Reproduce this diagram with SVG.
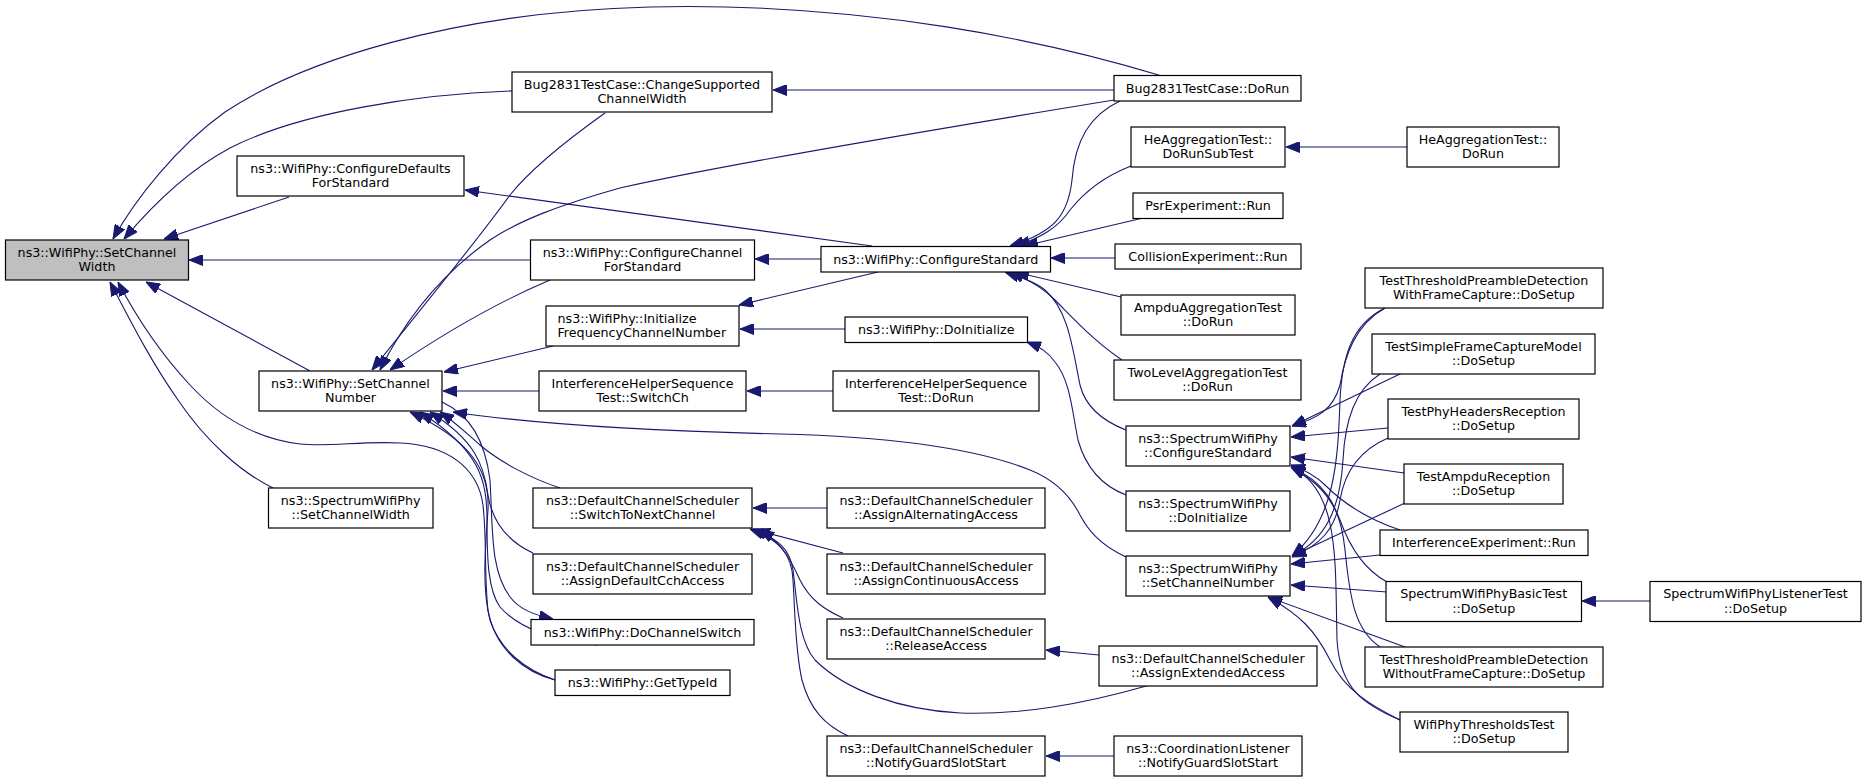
<svg xmlns="http://www.w3.org/2000/svg" width="1867" height="782" viewBox="0 0 1867 782">
<style>
.n rect{fill:#fff;stroke:#000;stroke-width:1.2}
.n text{font-family:"DejaVu Sans","Liberation Sans",sans-serif;font-size:12.7px;fill:#000;text-anchor:middle}
.e path{fill:none;stroke:#191970;stroke-width:1.1;marker-end:url(#ah)}
</style>
<defs>
<marker id="ah" markerUnits="userSpaceOnUse" markerWidth="14" markerHeight="11" viewBox="0 0 13 10" refX="13" refY="5" orient="auto">
<path d="M0,0 L13,5 L0,10 z" fill="#191970" stroke="#191970" stroke-width="1"/>
</marker>
</defs>
<rect width="1867" height="782" fill="#fff"/>
<g class="e" id="edges">
<path d="M1162,76 C1050,42 870,2 650,7 C450,12 300,62 225,112 C175,148 135,200 113,239"/>
<path d="M512,91 C420,94 300,112 230,148 C185,172 150,208 124,239"/>
<path d="M289,197 L164,239"/>
<path d="M530,260 L189,260"/>
<path d="M310,371 L146,282"/>
<path d="M273,488 C240,472 205,440 178,400 C150,360 130,320 110,282"/>
<path d="M555,680 C525,672 495,650 488,610 C484,575 487,540 483,505 C478,468 448,445 400,443 C360,441 330,447 300,444 C250,438 215,412 190,385 C162,355 138,320 118,282"/>
<path d="M605,113 C560,145 530,170 510,195 C470,250 420,310 372,370"/>
<path d="M1114,100 C900,135 700,170 620,188 C560,205 520,220 490,240 C440,275 405,320 380,370"/>
<path d="M550,280 C510,297 460,322 390,370"/>
<path d="M553,346 L444,372"/>
<path d="M539,391 L443,391"/>
<path d="M1126,557 C1100,545 1088,530 1080,515 C1070,495 1055,480 1030,470 C980,450 900,437 780,434 C650,431 540,425 453,412"/>
<path d="M560,488 C530,478 500,462 480,445 C465,432 455,422 440,412"/>
<path d="M533,553 C505,540 492,520 488,495 C484,465 475,440 430,412"/>
<path d="M597,645 C560,642 520,630 500,607 C488,590 487,560 487,520 C487,480 480,450 420,412"/>
<path d="M555,680 C525,670 500,650 490,620 C482,590 485,550 488,510 C490,470 470,440 410,412"/>
<path d="M442,402 C470,415 485,440 490,480 C493,530 490,570 510,597 C520,610 535,615 553,619"/>
<path d="M1114,90 L773,90"/>
<path d="M872,246 L465,190"/>
<path d="M821,259 L755,259"/>
<path d="M878,272 L739,305"/>
<path d="M845,329 L740,329"/>
<path d="M833,391 L747,391"/>
<path d="M1126,495 C1100,485 1085,465 1078,440 C1072,410 1070,380 1055,362 C1048,352 1040,347 1027,342"/>
<path d="M1120,101 C1090,115 1075,140 1072,180 C1068,215 1055,232 1010,246"/>
<path d="M1131,166 C1100,178 1082,195 1070,210 C1058,228 1040,238 1016,246"/>
<path d="M1143,218 L1024,246"/>
<path d="M1115,258 L1051,258"/>
<path d="M1121,297 L1015,272"/>
<path d="M1122,360 C1095,342 1075,320 1055,300 C1045,290 1030,280 1010,272"/>
<path d="M1126,430 C1100,420 1085,405 1080,385 C1072,345 1068,310 1045,290 C1035,282 1020,277 1005,272"/>
<path d="M827,508 L753,508"/>
<path d="M843,553 L756,530"/>
<path d="M843,618 C825,610 810,600 800,580 C792,563 785,545 760,530"/>
<path d="M1150,685 C1080,705 1020,715 960,713 C900,710 845,690 815,660 C798,640 797,600 793,570 C790,550 780,540 753,529"/>
<path d="M848,736 C825,725 810,710 802,680 C795,650 795,610 793,580 C792,555 780,540 750,529"/>
<path d="M1099,655 L1046,650"/>
<path d="M1114,756 L1046,756"/>
<path d="M1407,147 L1286,147"/>
<path d="M1385,308 C1355,325 1345,355 1340,385 C1333,410 1318,418 1292,426"/>
<path d="M1402,373 L1292,426"/>
<path d="M1388,428 L1291,437"/>
<path d="M1404,473 L1291,457"/>
<path d="M1400,530 C1370,520 1345,505 1325,485 C1315,475 1305,470 1291,465"/>
<path d="M1387,582 C1365,570 1350,548 1340,520 C1330,495 1315,480 1291,467"/>
<path d="M1380,647 C1355,630 1350,600 1345,550 C1340,500 1320,480 1291,467"/>
<path d="M1400,720 C1365,705 1340,690 1337,640 C1335,560 1340,490 1291,467"/>
<path d="M1385,308 C1350,325 1342,360 1340,400 C1338,460 1335,520 1292,556"/>
<path d="M1380,374 C1355,390 1345,420 1343,460 C1340,510 1325,540 1292,556"/>
<path d="M1388,438 C1360,450 1345,470 1340,500 C1335,530 1320,545 1292,557"/>
<path d="M1405,503 L1292,556"/>
<path d="M1380,555 L1291,564"/>
<path d="M1387,592 L1291,585"/>
<path d="M1405,647 L1268,597"/>
<path d="M1400,720 C1370,705 1345,690 1330,660 C1315,630 1300,615 1268,597"/>
<path d="M1650,601 L1582,601"/>
</g>
<g class="n" id="n1"><rect x="5.5" y="240" width="183" height="40" style="fill:#bfbfbf"/><text x="97" y="256.5">ns3::WifiPhy::SetChannel</text><text x="97" y="271.3">Width</text></g>
<g class="n" id="n2"><rect x="237" y="156" width="227" height="40"/><text x="350.5" y="172.5">ns3::WifiPhy::ConfigureDefaults</text><text x="350.5" y="187.3">ForStandard</text></g>
<g class="n" id="n3"><rect x="259" y="371" width="183" height="40"/><text x="350.5" y="387.5">ns3::WifiPhy::SetChannel</text><text x="350.5" y="402.3">Number</text></g>
<g class="n" id="n4"><rect x="268.5" y="488" width="164.5" height="40"/><text x="350.7" y="504.5">ns3::SpectrumWifiPhy</text><text x="350.7" y="519.3">::SetChannelWidth</text></g>
<g class="n" id="n5"><rect x="512" y="72" width="260" height="40"/><text x="642" y="88.5">Bug2831TestCase::ChangeSupported</text><text x="642" y="103.3">ChannelWidth</text></g>
<g class="n" id="n6"><rect x="530.5" y="240" width="224" height="40"/><text x="642.5" y="256.5">ns3::WifiPhy::ConfigureChannel</text><text x="642.5" y="271.3">ForStandard</text></g>
<g class="n" id="n7"><rect x="546" y="306" width="193" height="40"/><text x="557.5" y="322.5" style="text-anchor:start">ns3::WifiPhy::Initialize</text><text x="557.5" y="337.3" style="text-anchor:start">FrequencyChannelNumber</text></g>
<g class="n" id="n8"><rect x="539" y="371" width="207" height="40"/><text x="642.5" y="387.5">InterferenceHelperSequence</text><text x="642.5" y="402.3">Test::SwitchCh</text></g>
<g class="n" id="n9"><rect x="533" y="488" width="219" height="40"/><text x="642.5" y="504.5">ns3::DefaultChannelScheduler</text><text x="642.5" y="519.3">::SwitchToNextChannel</text></g>
<g class="n" id="n10"><rect x="533" y="554" width="219" height="40"/><text x="642.5" y="570.5">ns3::DefaultChannelScheduler</text><text x="642.5" y="585.3">::AssignDefaultCchAccess</text></g>
<g class="n" id="n11"><rect x="531" y="619.5" width="223" height="25.5"/><text x="642.5" y="636.5">ns3::WifiPhy::DoChannelSwitch</text></g>
<g class="n" id="n12"><rect x="555" y="670" width="175" height="25.5"/><text x="642.5" y="687">ns3::WifiPhy::GetTypeId</text></g>
<g class="n" id="n13"><rect x="821" y="246.5" width="229.5" height="25.5"/><text x="935.7" y="263.5">ns3::WifiPhy::ConfigureStandard</text></g>
<g class="n" id="n14"><rect x="845" y="317" width="182.5" height="25.5"/><text x="936.2" y="334">ns3::WifiPhy::DoInitialize</text></g>
<g class="n" id="n15"><rect x="833" y="371" width="206" height="40"/><text x="936" y="387.5">InterferenceHelperSequence</text><text x="936" y="402.3">Test::DoRun</text></g>
<g class="n" id="n16"><rect x="827" y="488" width="218" height="40"/><text x="936" y="504.5">ns3::DefaultChannelScheduler</text><text x="936" y="519.3">::AssignAlternatingAccess</text></g>
<g class="n" id="n17"><rect x="827" y="554" width="218" height="40"/><text x="936" y="570.5">ns3::DefaultChannelScheduler</text><text x="936" y="585.3">::AssignContinuousAccess</text></g>
<g class="n" id="n18"><rect x="827" y="619" width="218" height="40"/><text x="936" y="635.5">ns3::DefaultChannelScheduler</text><text x="936" y="650.3">::ReleaseAccess</text></g>
<g class="n" id="n19"><rect x="827" y="736" width="218" height="40"/><text x="936" y="752.5">ns3::DefaultChannelScheduler</text><text x="936" y="767.3">::NotifyGuardSlotStart</text></g>
<g class="n" id="n20"><rect x="1114" y="75.5" width="187" height="25.5"/><text x="1207.5" y="92.5">Bug2831TestCase::DoRun</text></g>
<g class="n" id="n21"><rect x="1131" y="127" width="154" height="40"/><text x="1208" y="143.5">HeAggregationTest::</text><text x="1208" y="158.3">DoRunSubTest</text></g>
<g class="n" id="n22"><rect x="1133" y="193" width="150" height="25.5"/><text x="1208" y="210">PsrExperiment::Run</text></g>
<g class="n" id="n23"><rect x="1115" y="244" width="186" height="25"/><text x="1208" y="261">CollisionExperiment::Run</text></g>
<g class="n" id="n24"><rect x="1121" y="295" width="174" height="40"/><text x="1208" y="311.5">AmpduAggregationTest</text><text x="1208" y="326.3">::DoRun</text></g>
<g class="n" id="n25"><rect x="1114" y="360" width="187" height="40"/><text x="1207.5" y="376.5">TwoLevelAggregationTest</text><text x="1207.5" y="391.3">::DoRun</text></g>
<g class="n" id="n26"><rect x="1126" y="426" width="164" height="40"/><text x="1208" y="442.5">ns3::SpectrumWifiPhy</text><text x="1208" y="457.3">::ConfigureStandard</text></g>
<g class="n" id="n27"><rect x="1126" y="491" width="164" height="40"/><text x="1208" y="507.5">ns3::SpectrumWifiPhy</text><text x="1208" y="522.3">::DoInitialize</text></g>
<g class="n" id="n28"><rect x="1126" y="556" width="164" height="40"/><text x="1208" y="572.5">ns3::SpectrumWifiPhy</text><text x="1208" y="587.3">::SetChannelNumber</text></g>
<g class="n" id="n29"><rect x="1099" y="646" width="218" height="40"/><text x="1208" y="662.5">ns3::DefaultChannelScheduler</text><text x="1208" y="677.3">::AssignExtendedAccess</text></g>
<g class="n" id="n30"><rect x="1114" y="736" width="188" height="40"/><text x="1208" y="752.5">ns3::CoordinationListener</text><text x="1208" y="767.3">::NotifyGuardSlotStart</text></g>
<g class="n" id="n31"><rect x="1407" y="127" width="152" height="40"/><text x="1483" y="143.5">HeAggregationTest::</text><text x="1483" y="158.3">DoRun</text></g>
<g class="n" id="n32"><rect x="1365" y="268" width="238" height="40"/><text x="1484" y="284.5">TestThresholdPreambleDetection</text><text x="1484" y="299.3">WithFrameCapture::DoSetup</text></g>
<g class="n" id="n33"><rect x="1372" y="334" width="223" height="40"/><text x="1483.5" y="350.5">TestSimpleFrameCaptureModel</text><text x="1483.5" y="365.3">::DoSetup</text></g>
<g class="n" id="n34"><rect x="1388" y="399" width="191" height="40"/><text x="1483.5" y="415.5">TestPhyHeadersReception</text><text x="1483.5" y="430.3">::DoSetup</text></g>
<g class="n" id="n35"><rect x="1404" y="464" width="159" height="40"/><text x="1483.5" y="480.5">TestAmpduReception</text><text x="1483.5" y="495.3">::DoSetup</text></g>
<g class="n" id="n36"><rect x="1380" y="530" width="208" height="25.5"/><text x="1484" y="547">InterferenceExperiment::Run</text></g>
<g class="n" id="n37"><rect x="1386" y="581.5" width="195.5" height="40"/><text x="1483.7" y="598">SpectrumWifiPhyBasicTest</text><text x="1483.7" y="612.8">::DoSetup</text></g>
<g class="n" id="n38"><rect x="1365" y="647" width="238" height="40"/><text x="1484" y="663.5">TestThresholdPreambleDetection</text><text x="1484" y="678.3">WithoutFrameCapture::DoSetup</text></g>
<g class="n" id="n39"><rect x="1400" y="712" width="168" height="40"/><text x="1484" y="728.5">WifiPhyThresholdsTest</text><text x="1484" y="743.3">::DoSetup</text></g>
<g class="n" id="n40"><rect x="1650" y="581.5" width="211" height="40"/><text x="1755.5" y="598">SpectrumWifiPhyListenerTest</text><text x="1755.5" y="612.8">::DoSetup</text></g>
</svg>
